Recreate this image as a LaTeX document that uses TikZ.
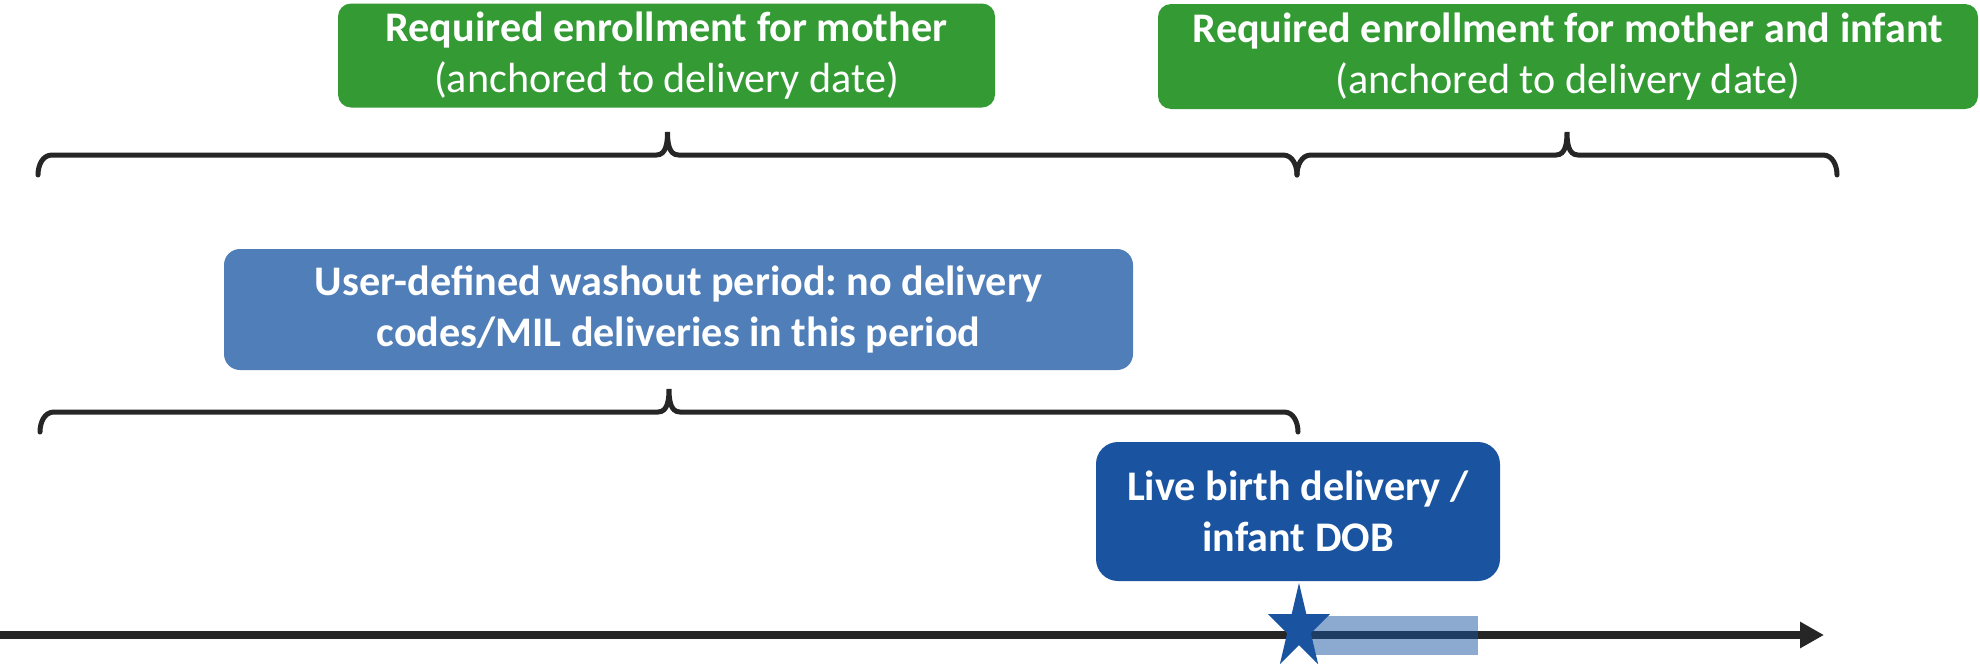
\documentclass[tikz,border=0pt]{standalone}
\usepackage{fontspec}
\setmainfont{Carlito}
\frenchspacing
\definecolor{EnrollGreen}{HTML}{339A34}
\definecolor{WashBlue}{HTML}{4F7EB8}
\definecolor{DobBlue}{HTML}{1A53A0}
\definecolor{LineGray}{HTML}{262626}
\usetikzlibrary{arrows.meta, positioning, calc}

% curly brace over a span: left x, right x, base y
\newcommand{\spanbrace}[3]{%
  \pgfmathsetmacro{\bxl}{#1+0.14}%
  \pgfmathsetmacro{\bxr}{#2-0.14}%
  \pgfmathsetmacro{\bxm}{(#1+#2)/2}%
  \pgfmathsetmacro{\bxml}{\bxm-0.11}%
  \pgfmathsetmacro{\bxmr}{\bxm+0.11}%
  \pgfmathsetmacro{\bybar}{#3+0.2}%
  \pgfmathsetmacro{\bytip}{#3+0.43}%
  \draw[brace] (#1,#3) to[out=90,in=180] (\bxl,\bybar) -- (\bxml,\bybar)
    to[out=0,in=-90] (\bxm,\bytip) to[out=-90,in=180] (\bxmr,\bybar)
    -- (\bxr,\bybar) to[out=0,in=90] (#2,#3);}

\begin{document}
\begin{tikzpicture}[thick,
  box/.style={rounded corners=0.13cm, text=white, align=center, inner sep=0pt,
              font={\fontsize{12}{14.6}\selectfont}},
  brace/.style={line width=0.05cm, LineGray, line cap=round}]
  \useasboundingbox (0,0) rectangle (19.8,6.63);

  % enrollment windows
  \node[box, fill=EnrollGreen, minimum width=6.57cm, minimum height=1.04cm]
    (mom) at (6.665,6.075) {\textbf{Required enrollment for mother}\\(anchored to delivery date)};
  \node[box, fill=EnrollGreen, minimum width=8.2cm, minimum height=1.05cm]
    (mominf) at (15.68,6.065) {\textbf{Required enrollment for mother and infant}\\(anchored to delivery date)};
  \spanbrace{0.38}{12.97}{4.88}
  \spanbrace{12.97}{18.37}{4.88}

  % washout
  \node[box, fill=WashBlue, rounded corners=0.16cm, minimum width=9.09cm, minimum height=1.21cm]
    (washout) at (6.785,3.535) {\textbf{User-defined washout period: no delivery}\\\textbf{codes/MIL deliveries in this period}};
  \spanbrace{0.40}{12.98}{2.31}

  % delivery
  \node[box, fill=DobBlue, rounded corners=0.22cm, minimum width=4.04cm, minimum height=1.39cm]
    (dob) at (12.98,1.515) {\textbf{Live birth delivery /}\\\textbf{infant DOB}};

  % timeline
  \coordinate (tstart) at (0,0.28);
  \coordinate (tend) at (18.24,0.28);
  \draw[LineGray, line width=0.08cm, -{Triangle[length=0.24cm, width=0.25cm]}] (tstart) -- (tend);
  \fill[DobBlue, opacity=0.5] (13.11,0.08) rectangle (14.78,0.47);
  \fill[DobBlue, shift={(12.99,0.351)}, xscale=0.326, yscale=0.449]
    (90:1) \foreach \k in {1,...,9} { -- ({90+36*\k}:{ifthenelse(mod(\k,2)==1,0.382,1)}) } -- cycle;
\end{tikzpicture}
\end{document}
